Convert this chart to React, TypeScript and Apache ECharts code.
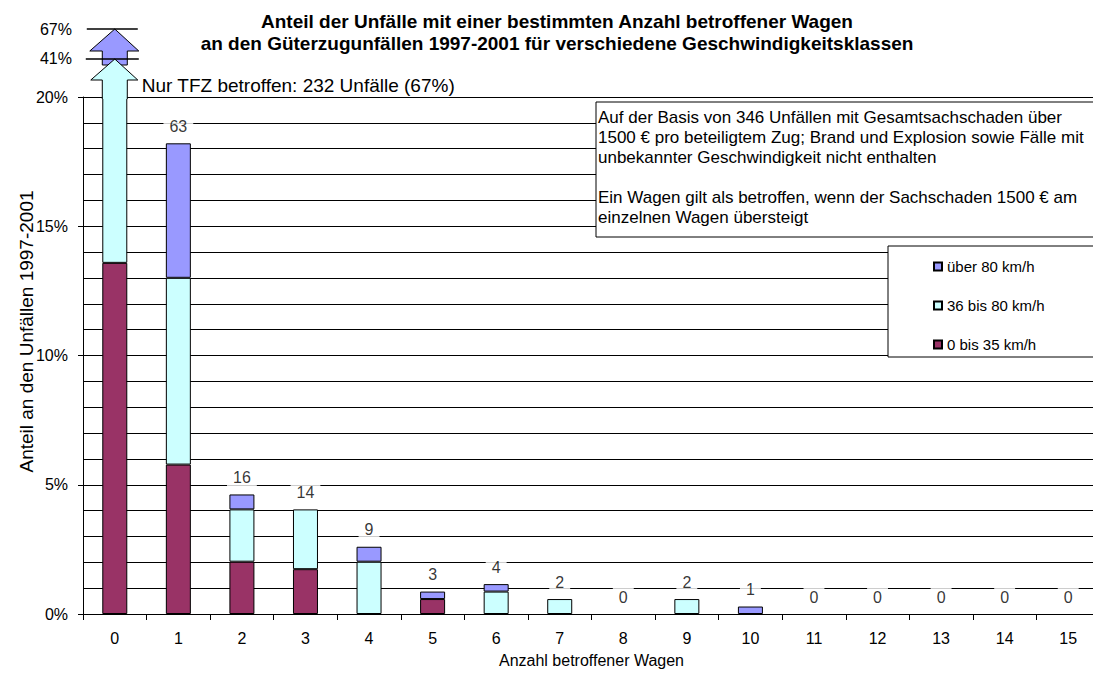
import React, { useEffect, useRef } from "react";
import * as echarts from "echarts";

const TOTAL_ACCIDENTS = 346;
const categories = ["0", "1", "2", "3", "4", "5", "6", "7", "8", "9", "10", "11", "12", "13", "14", "15"];
// number of accidents per speed class
const slowCounts = [47, 20, 7, 6, 0, 2, 0, 0, 0, 0, 0, 0, 0, 0, 0, 0];
const midCounts = [95, 25, 7, 8, 7, 0, 3, 2, 0, 2, 0, 0, 0, 0, 0, 0];
const fastCounts = [90, 18, 2, 0, 2, 1, 1, 0, 0, 0, 1, 0, 0, 0, 0, 0];
const totalCounts = [232, 63, 16, 14, 9, 3, 4, 2, 0, 2, 1, 0, 0, 0, 0, 0];
const seriesNames = ["0 bis 35 km/h", "36 bis 80 km/h", "über 80 km/h"];
const colors = ["#993366", "#CCFFFF", "#9999FF"];
const yTicks = [0, 5, 10, 15, 20];
const breakLabels = ["41%", "67%"];

const FONT = "'Liberation Sans', Arial, sans-serif";
const pct = (c: number) => (c / TOTAL_ACCIDENTS) * 100;

export default function App() {
  const ref = useRef<HTMLDivElement>(null);
  useEffect(() => {
    if (!ref.current) return;
    const chart = echarts.init(ref.current, null, { renderer: "svg" });
    const barSeries = [slowCounts, midCounts, fastCounts].map((arr, i) => ({
      name: seriesNames[i],
      type: "bar",
      stack: "s",
      barWidth: 25,
      clip: true,
      itemStyle: { color: colors[i], borderColor: "#000", borderWidth: 1 },
      data: arr.map((c) => (c === 0 ? null : pct(c))),
    }));
    chart.setOption({
      animation: false,
      textStyle: { fontFamily: FONT },
      grid: { left: 83, top: 97, right: -7, bottom: 61, outerBoundsMode: "none", containLabel: false },
      legend: {
        data: [seriesNames[2], seriesNames[1], seriesNames[0]],
        orient: "vertical",
        left: 888,
        top: 246,
        padding: [12, 50, 4, 45],
        itemGap: 22,
        itemWidth: 8,
        itemHeight: 8,
        icon: "rect",
        backgroundColor: "#fff",
        borderColor: "#000",
        borderWidth: 1,
        textStyle: { fontSize: 15, lineHeight: 17, color: "#000", fontFamily: FONT },
      },
      xAxis: {
        type: "category",
        data: categories,
        name: "Anzahl betroffener Wagen",
        nameLocation: "middle",
        nameGap: 38,
        nameTextStyle: { fontSize: 16, color: "#000", fontFamily: FONT },
        axisLine: { lineStyle: { color: "#000", width: 1 } },
        axisTick: { show: true, length: 6, lineStyle: { color: "#000" } },
        axisLabel: { fontSize: 16, color: "#000", margin: 16, fontFamily: FONT },
      },
      yAxis: {
        type: "value",
        min: yTicks[0],
        max: yTicks[yTicks.length - 1],
        interval: 5,
        axisLine: { show: true, lineStyle: { color: "#000", width: 1 } },
        axisTick: { show: true, length: 5, lineStyle: { color: "#000" } },
        axisLabel: { fontSize: 16, color: "#000", margin: 15, formatter: "{value}%", fontFamily: FONT },
        splitLine: { show: true, lineStyle: { color: "#000", width: 1 } },
        minorTick: { show: false, splitNumber: 5 },
        minorSplitLine: { show: true, lineStyle: { color: "#000", width: 1 } },
      },
      series: [
        ...barSeries,
        {
          name: "Summe",
          type: "scatter",
          symbolSize: 0,
          silent: true,
          z: 10,
          data: totalCounts.map((c, i) => (i === 0 ? "-" : pct(c))),
          label: {
            show: true,
            position: "top",
            distance: 7,
            fontSize: 16,
            color: "#000",
            fontFamily: FONT,
            backgroundColor: "#fff",
            padding: [2, 6],
            formatter: (p: any) => String(totalCounts[p.dataIndex]),
          },
        },
      ],
    });

    const cx = chart.convertToPixel({ xAxisIndex: 0 }, 0) as number;
    const gridTop = chart.convertToPixel({ yAxisIndex: 0 }, yTicks[yTicks.length - 1]) as number;
    const gridBottom = chart.convertToPixel({ yAxisIndex: 0 }, yTicks[0]) as number;
    const hw = 12.5;
    const y41 = gridTop - 38;
    const y67 = gridTop - 68;
    const cyanHeadBase = gridTop - 17;
    const lavHeadBase = gridTop - 46;
    const lavShaftBottom = y41 + 6;
    const cyanPts = [
      [cx - hw, gridTop + 2],
      [cx - hw, cyanHeadBase],
      [cx - 24, cyanHeadBase],
      [cx, y41],
      [cx + 23, cyanHeadBase],
      [cx + hw, cyanHeadBase],
      [cx + hw, gridTop + 2],
    ];

    chart.setOption({
      graphic: [
        {
          type: "text",
          x: 557,
          y: 11,
          z: 100,
          style: {
            text: "Anteil der Unfälle mit einer bestimmten Anzahl betroffener Wagen\nan den Güterzugunfällen 1997-2001 für verschiedene Geschwindigkeitsklassen",
            font: "bold 19px " + FONT,
            lineHeight: 21.6,
            fill: "#000",
            align: "center",
            verticalAlign: "top",
          },
        },
        {
          type: "text",
          x: 26,
          y: (gridTop + gridBottom) / 2 - 24,
          rotation: Math.PI / 2,
          z: 100,
          style: {
            text: "Anteil an den Unfällen 1997-2001",
            font: "19px " + FONT,
            fill: "#000",
            align: "center",
            verticalAlign: "middle",
          },
        },
        // lavender arrow (über 80 km/h part above axis break)
        {
          type: "polygon",
          z: 100,
          shape: {
            points: [
              [cx - hw, lavShaftBottom],
              [cx - hw, lavHeadBase],
              [cx - 25, lavHeadBase],
              [cx, y67],
              [cx + 24, lavHeadBase],
              [cx + hw, lavHeadBase],
              [cx + hw, lavShaftBottom],
            ],
          },
          style: { fill: colors[2], stroke: "#000", lineWidth: 1 },
        },
        {
          type: "polygon",
          z: 101,
          shape: { points: cyanPts },
          style: { fill: colors[1], stroke: null },
        },
        {
          type: "polyline",
          z: 102,
          shape: { points: cyanPts },
          style: { fill: null, stroke: "#000", lineWidth: 1 },
        },
        {
          type: "line",
          z: 103,
          shape: { x1: cx - 28, y1: y67, x2: cx + 23, y2: y67 },
          style: { stroke: "#000", lineWidth: 1.5 },
        },
        {
          type: "line",
          z: 103,
          shape: { x1: cx - 29, y1: y41, x2: cx + 24, y2: y41 },
          style: { stroke: "#000", lineWidth: 1.5 },
        },
        {
          type: "text",
          z: 103,
          x: 72,
          y: y67,
          style: { text: breakLabels[1], font: "16px " + FONT, fill: "#000", align: "right", verticalAlign: "middle" },
        },
        {
          type: "text",
          z: 103,
          x: 72,
          y: y41 - 1,
          style: { text: breakLabels[0], font: "16px " + FONT, fill: "#000", align: "right", verticalAlign: "middle" },
        },
        {
          type: "text",
          z: 103,
          x: cx + 27,
          y: gridTop - 12,
          style: {
            text: "Nur TFZ betroffen: 232 Unfälle (67%)",
            font: "19px " + FONT,
            fill: "#000",
            align: "left",
            verticalAlign: "middle",
          },
        },
        // note box
        {
          type: "rect",
          z: 100,
          shape: { x: 596, y: 102, width: 520, height: 135 },
          style: { fill: "#fff", stroke: "#000", lineWidth: 1 },
        },
        {
          type: "text",
          z: 101,
          x: 598,
          y: 107,
          style: {
            text:
              "Auf der Basis von 346 Unfällen mit Gesamtsachschaden über\n1500 € pro beteiligtem Zug; Brand und Explosion sowie Fälle mit\nunbekannter Geschwindigkeit nicht enthalten\n\nEin Wagen gilt als betroffen, wenn der Sachschaden 1500 € am\neinzelnen Wagen übersteigt",
            font: "17px " + FONT,
            lineHeight: 20,
            fill: "#000",
            align: "left",
            verticalAlign: "top",
          },
        },
      ],
    });
    return () => chart.dispose();
  }, []);
  return (
    <div
      ref={ref}
      style={{ position: "fixed", left: 0, top: 0, width: 1093, height: 675, background: "#fff" }}
    />
  );
}
